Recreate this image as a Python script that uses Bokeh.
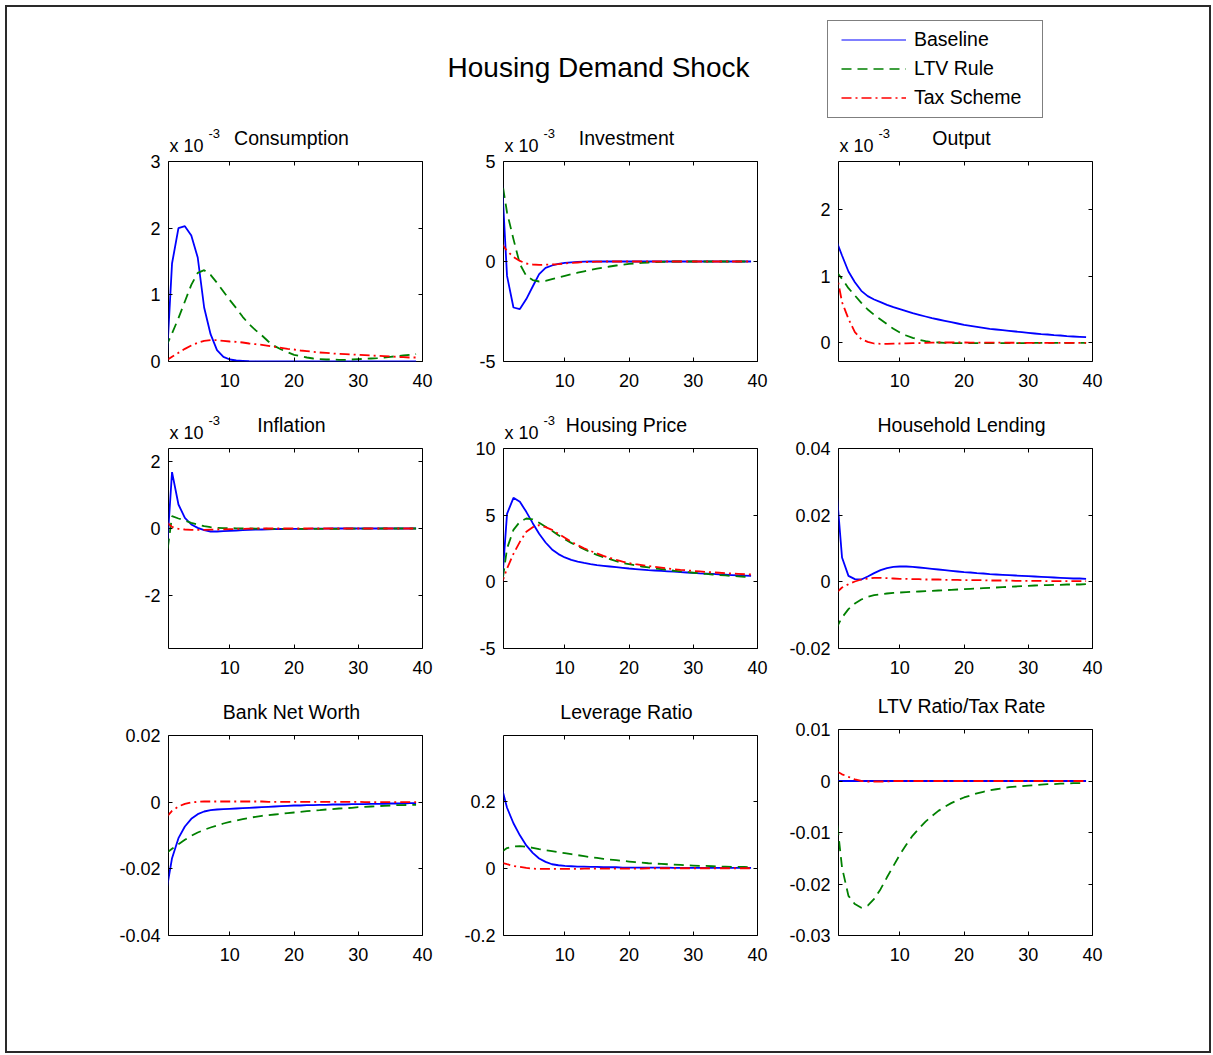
from bokeh.plotting import figure
from bokeh.models import (Range1d, FixedTicker, LinearAxis, Label, Legend, LegendItem,
                          CustomLabelingPolicy)
from bokeh.layouts import column, row
from bokeh.embed import file_html
from bokeh.resources import INLINE

FONT = "Liberation Sans"

# ---------------- data (periods 0..39) ----------------
PERIODS = list(range(0, 40))
X_TICKS = [10, 20, 30, 40]
X_LABELS = ["10", "20", "30", "40"]

# Consumption (x 10^-3)
CONS_BASE = [-0.3, 1.47, 2.00, 2.03, 1.89, 1.56, 0.81, 0.41, 0.17, 0.07, 0.03, 0.015, 0.01, 0.005, 0.003, 0.002,
             0.001, 0.0, 0.0, 0.0, 0.0, 0.0, 0.0, 0.0, 0.0, 0.0, 0.0, 0.0, 0.0, 0.0, 0.0, 0.0, 0.0, 0.0, 0.0, 0.0,
             0.0, 0.0, 0.0, 0.0]
CONS_LTV = [0.21, 0.42, 0.65, 0.9, 1.15, 1.33, 1.37, 1.3, 1.18, 1.05, 0.92, 0.8, 0.67, 0.56, 0.47, 0.39, 0.3, 0.23,
            0.18, 0.14, 0.1, 0.08, 0.06, 0.045, 0.035, 0.03, 0.03, 0.025, 0.025, 0.03, 0.035, 0.04, 0.045, 0.05,
            0.06, 0.07, 0.08, 0.09, 0.1, 0.11]
CONS_TAX = [0.01, 0.07, 0.13, 0.19, 0.24, 0.28, 0.31, 0.32, 0.32, 0.31, 0.3, 0.295, 0.285, 0.27, 0.26, 0.25, 0.235,
            0.22, 0.205, 0.19, 0.18, 0.165, 0.155, 0.145, 0.135, 0.13, 0.12, 0.115, 0.11, 0.105, 0.1, 0.095, 0.09,
            0.085, 0.08, 0.075, 0.07, 0.065, 0.06, 0.06]

# Investment (x 10^-3)
INV_BASE = [5.3, -0.72, -2.3, -2.38, -1.88, -1.25, -0.63, -0.32, -0.2, -0.12, -0.07, -0.04, -0.02, -0.01, 0.0, 0.0,
            0.0, 0.0, 0.0, 0.0, 0.0, 0.0, 0.0, 0.0, 0.0, 0.0, 0.0, 0.0, 0.0, 0.0, 0.0, 0.0, 0.0, 0.0, 0.0, 0.0, 0.0,
            0.0, 0.0, 0.0]
INV_LTV = [4.47, 2.45, 1.12, -0.13, -0.72, -0.93, -1.0, -0.97, -0.88, -0.8, -0.72, -0.64, -0.56, -0.49, -0.42, -0.36,
           -0.3, -0.25, -0.2, -0.16, -0.12, -0.09, -0.07, -0.05, -0.03, -0.02, -0.01, 0.0, 0.0, 0.0, 0.0, 0.0, 0.0,
           0.0, 0.0, 0.0, 0.0, 0.0, 0.0, 0.0]
INV_TAX = [0.96, 0.53, 0.23, 0.03, -0.1, -0.15, -0.17, -0.16, -0.15, -0.13, -0.1, -0.07, -0.05, -0.03, -0.02, -0.01,
           0.0, 0.0, 0.0, 0.0, 0.0, 0.0, 0.0, 0.0, 0.0, 0.0, 0.0, 0.0, 0.0, 0.0, 0.0, 0.0, 0.0, 0.0, 0.0, 0.0, 0.0,
           0.0, 0.0, 0.0]

# Output (x 10^-3)
OUT_BASE = [1.56, 1.31, 1.07, 0.91, 0.78, 0.7, 0.65, 0.61, 0.57, 0.535, 0.505, 0.475, 0.445, 0.42, 0.395, 0.37,
            0.35, 0.33, 0.31, 0.29, 0.27, 0.255, 0.24, 0.225, 0.21, 0.2, 0.19, 0.18, 0.17, 0.16, 0.15, 0.14, 0.13,
            0.125, 0.115, 0.11, 0.1, 0.095, 0.09, 0.085]
OUT_LTV = [1.08, 0.96, 0.82, 0.71, 0.6, 0.5, 0.42, 0.35, 0.28, 0.21, 0.155, 0.11, 0.075, 0.045, 0.025, 0.01, 0.005,
           0.0, -0.005, -0.005, -0.005, -0.005, -0.005, -0.005, -0.005, -0.005, -0.005, -0.004, -0.004, -0.003,
           -0.003, -0.002, -0.002, -0.001, -0.001, 0.0, 0.0, 0.0, 0.0, 0.0]
OUT_TAX = [1.11, 0.61, 0.36, 0.16, 0.055, 0.015, -0.01, -0.015, -0.015, -0.012, -0.01, -0.008, -0.005, -0.003, 0.0,
           0.003, 0.005, 0.005, 0.005, 0.005, 0.005, 0.004, 0.004, 0.003, 0.003, 0.002, 0.002, 0.001, 0.001, 0.0,
           0.0, 0.0, 0.0, 0.0, 0.0, 0.0, 0.0, 0.0, 0.0, 0.0]

# Inflation (x 10^-3)
INF_BASE = [-1.26, 1.69, 0.72, 0.32, 0.12, 0.02, -0.05, -0.09, -0.09, -0.08, -0.07, -0.06, -0.05, -0.04, -0.035,
            -0.03, -0.025, -0.02, -0.015, -0.015, -0.01, -0.01, -0.01, -0.005, -0.005, -0.005, 0.0, 0.0, 0.0, 0.0,
            0.0, 0.0, 0.0, 0.0, 0.0, 0.0, 0.0, 0.0, 0.0, 0.0]
INF_LTV = [-1.08, 0.37, 0.3, 0.24, 0.17, 0.12, 0.07, 0.04, 0.02, 0.01, 0.01, 0.005, 0.0, 0.0, -0.005, -0.005, -0.01,
           -0.01, -0.01, -0.01, -0.01, -0.01, -0.01, -0.01, -0.01, -0.01, -0.01, -0.01, -0.005, -0.005, -0.005,
           -0.005, -0.005, -0.005, 0.0, 0.0, 0.0, 0.0, 0.0, 0.0]
INF_TAX = [0.21, 0.05, -0.01, -0.03, -0.04, -0.04, -0.04, -0.035, -0.03, -0.025, -0.02, -0.015, -0.01, -0.005, 0.0,
           0.0, 0.0, 0.0, 0.0, 0.0, 0.0, 0.0, 0.0, 0.0, 0.0, 0.0, 0.0, 0.0, 0.0, 0.0, 0.0, 0.0, 0.0, 0.0, 0.0, 0.0,
           0.0, 0.0, 0.0, 0.0]

# Housing Price (x 10^-3)
HP_BASE = [-1.6, 5.1, 6.3, 6.0, 5.25, 4.4, 3.6, 2.95, 2.43, 2.08, 1.83, 1.65, 1.52, 1.42, 1.33, 1.25, 1.2, 1.15, 1.1,
           1.05, 1.0, 0.96, 0.92, 0.88, 0.85, 0.82, 0.79, 0.76, 0.73, 0.7, 0.67, 0.64, 0.62, 0.59, 0.56, 0.54, 0.51,
           0.48, 0.46, 0.44]
HP_LTV = [-0.92, 2.5, 3.9, 4.5, 4.75, 4.68, 4.43, 4.13, 3.83, 3.5, 3.2, 2.92, 2.68, 2.45, 2.22, 2.02, 1.85, 1.7,
          1.55, 1.42, 1.32, 1.23, 1.15, 1.08, 1.01, 0.95, 0.89, 0.83, 0.78, 0.73, 0.68, 0.63, 0.59, 0.55, 0.51, 0.48,
          0.44, 0.41, 0.38, 0.35]
HP_TAX = [-0.36, 1.0, 2.1, 3.0, 3.75, 4.1, 4.25, 4.1, 3.9, 3.6, 3.3, 3.0, 2.75, 2.52, 2.32, 2.13, 1.95, 1.8, 1.65,
          1.52, 1.4, 1.32, 1.25, 1.18, 1.12, 1.06, 1.0, 0.95, 0.9, 0.86, 0.82, 0.78, 0.74, 0.71, 0.68, 0.65, 0.62,
          0.6, 0.57, 0.55]

# Household Lending
HL_BASE = [0.031, 0.0073, 0.0018, 0.0008, 0.0007, 0.0016, 0.0026, 0.0035, 0.0041, 0.0045, 0.0046, 0.0046, 0.0045,
           0.0043, 0.0041, 0.0039, 0.0037, 0.0035, 0.0033, 0.0031, 0.0029, 0.0028, 0.0026, 0.0025, 0.0023, 0.0022,
           0.0021, 0.002, 0.0019, 0.0018, 0.0017, 0.0016, 0.0015, 0.0014, 0.0013, 0.0012, 0.0011, 0.001, 0.001,
           0.0009]
HL_LTV = [-0.0143, -0.0107, -0.0082, -0.0065, -0.0053, -0.0045, -0.004, -0.0037, -0.0035, -0.0033, -0.0032,
          -0.0031, -0.003, -0.0029, -0.0028, -0.0027, -0.0026, -0.0025, -0.0024, -0.0023, -0.0022, -0.0021, -0.002,
          -0.0019, -0.0018, -0.0017, -0.0016, -0.0015, -0.0014, -0.0013, -0.0012, -0.0011, -0.001, -0.001, -0.0009,
          -0.0009, -0.0008, -0.0008, -0.0008, -0.0007]
HL_TAX = [-0.0035, -0.0017, -0.0007, 0.0001, 0.0007, 0.001, 0.0012, 0.0012, 0.0011, 0.001, 0.0009, 0.0009, 0.0008,
          0.0008, 0.0007, 0.0007, 0.0007, 0.0006, 0.0006, 0.0006, 0.0005, 0.0005, 0.0005, 0.0005, 0.0004, 0.0004,
          0.0004, 0.0004, 0.0003, 0.0003, 0.0003, 0.0003, 0.0003, 0.0002, 0.0002, 0.0002, 0.0002, 0.0002, 0.0002,
          0.0002]

# Bank Net Worth
BNW_BASE = [-0.028, -0.0168, -0.0108, -0.0073, -0.005, -0.0036, -0.0028, -0.0024, -0.0022, -0.0021, -0.002, -0.0019,
            -0.0018, -0.0017, -0.0016, -0.0015, -0.0014, -0.0013, -0.0012, -0.0011, -0.001, -0.001, -0.0009,
            -0.0009, -0.0008, -0.0008, -0.0007, -0.0007, -0.0007, -0.0006, -0.0006, -0.0006, -0.0005, -0.0005,
            -0.0005, -0.0004, -0.0004, -0.0004, -0.0003, -0.0003]
BNW_LTV = [-0.0155, -0.014, -0.0126, -0.0113, -0.0101, -0.0091, -0.0083, -0.0076, -0.007, -0.0064, -0.0059, -0.0055,
           -0.0051, -0.0047, -0.0044, -0.0041, -0.0039, -0.0037, -0.0035, -0.0033, -0.0031, -0.0029, -0.0027,
           -0.0025, -0.0024, -0.0022, -0.0021, -0.0019, -0.0018, -0.0017, -0.0015, -0.0014, -0.0013, -0.0012,
           -0.0011, -0.001, -0.0009, -0.0009, -0.0008, -0.0008]
BNW_TAX = [-0.0048, -0.0026, -0.0013, -0.0005, -0.0001, 0.0001, 0.0002, 0.0002, 0.0002, 0.0002, 0.0002, 0.0002,
           0.0002, 0.0002, 0.0002, 0.0002, 0.0001, 0.0001, 0.0001, 0.0001, 0.0001, 0.0001, 0.0001, 0.0001, 0.0001,
           0.0001, 0.0001, 0.0001, 0.0001, 0.0001, 0.0001, 0.0, 0.0, 0.0, 0.0, 0.0, 0.0, 0.0, 0.0, 0.0]

# Leverage Ratio
LEV_BASE = [0.253, 0.18, 0.134, 0.098, 0.068, 0.046, 0.029, 0.019, 0.012, 0.009, 0.007, 0.006, 0.005, 0.005, 0.004,
            0.004, 0.003, 0.003, 0.003, 0.002, 0.002, 0.002, 0.002, 0.002, 0.002, 0.002, 0.002, 0.001, 0.001, 0.001,
            0.001, 0.001, 0.001, 0.001, 0.001, 0.001, 0.001, 0.001, 0.001, 0.001]
LEV_LTV = [0.047, 0.06, 0.065, 0.066, 0.064, 0.061, 0.057, 0.054, 0.051, 0.048, 0.045, 0.042, 0.039, 0.036, 0.033,
           0.031, 0.028, 0.026, 0.024, 0.022, 0.02, 0.018, 0.017, 0.015, 0.014, 0.013, 0.012, 0.011, 0.01, 0.009,
           0.008, 0.007, 0.007, 0.006, 0.005, 0.005, 0.004, 0.004, 0.004, 0.003]
LEV_TAX = [0.0175, 0.012, 0.007, 0.004, 0.001, -0.001, -0.002, -0.002, -0.002, -0.002, -0.002, -0.002, -0.002,
           -0.001, -0.001, -0.001, -0.001, -0.001, -0.001, -0.001, -0.001, -0.001, -0.001, 0.0, 0.0, 0.0, 0.0, 0.0,
           0.0, 0.0, 0.0, 0.0, 0.0, 0.0, 0.0, 0.0, 0.0, 0.0, 0.0, 0.0]

# LTV Ratio / Tax Rate
LTV_BASE = [0.0, 0.0, 0.0, 0.0, 0.0, 0.0, 0.0, 0.0, 0.0, 0.0, 0.0, 0.0, 0.0, 0.0, 0.0, 0.0, 0.0, 0.0, 0.0, 0.0, 0.0,
            0.0, 0.0, 0.0, 0.0, 0.0, 0.0, 0.0, 0.0, 0.0, 0.0, 0.0, 0.0, 0.0, 0.0, 0.0, 0.0, 0.0, 0.0, 0.0]
LTV_LTV = [-0.0055, -0.0168, -0.0223, -0.0239, -0.0246, -0.0242, -0.0229, -0.021, -0.0187, -0.0165, -0.0143,
           -0.0124, -0.0106, -0.0092, -0.0079, -0.0068, -0.0058, -0.005, -0.0043, -0.0037, -0.0032, -0.0028, -0.0024,
           -0.0021, -0.0018, -0.0016, -0.0014, -0.0012, -0.0011, -0.001, -0.0009, -0.0008, -0.0007, -0.0006,
           -0.0006, -0.0005, -0.0005, -0.0004, -0.0004, -0.0004]
LTV_TAX = [0.002, 0.0013, 0.0008, 0.0003, 0.0, -0.0001, -0.0001, -0.0001, -0.0001, 0.0, 0.0, 0.0, 0.0, 0.0, 0.0,
           0.0, 0.0, 0.0, 0.0, 0.0, 0.0, 0.0, 0.0, 0.0, 0.0, 0.0, 0.0, 0.0, 0.0, 0.0, 0.0, 0.0, 0.0, 0.0, 0.0, 0.0,
           0.0, 0.0, 0.0, 0.0]

SERIES_NAMES = ["Baseline", "LTV Rule", "Tax Scheme"]
MAIN_TITLE = "Housing Demand Shock"

PANELS = [
    dict(title="Consumption", series=[CONS_BASE, CONS_LTV, CONS_TAX], yr=(0, 3),
         yt=[0, 1, 2, 3], yl=["0", "1", "2", "3"], sci=True),
    dict(title="Investment", series=[INV_BASE, INV_LTV, INV_TAX], yr=(-5, 5),
         yt=[-5, 0, 5], yl=["-5", "0", "5"], sci=True),
    dict(title="Output", series=[OUT_BASE, OUT_LTV, OUT_TAX], yr=(-0.28, 2.72),
         yt=[0, 1, 2], yl=["0", "1", "2"], sci=True),
    dict(title="Inflation", series=[INF_BASE, INF_LTV, INF_TAX], yr=(-3.6, 2.4),
         yt=[-2, 0, 2], yl=["-2", "0", "2"], sci=True),
    dict(title="Housing Price", series=[HP_BASE, HP_LTV, HP_TAX], yr=(-5, 10),
         yt=[-5, 0, 5, 10], yl=["-5", "0", "5", "10"], sci=True),
    dict(title="Household Lending", series=[HL_BASE, HL_LTV, HL_TAX], yr=(-0.02, 0.04),
         yt=[-0.02, 0, 0.02, 0.04], yl=["-0.02", "0", "0.02", "0.04"], sci=False),
    dict(title="Bank Net Worth", series=[BNW_BASE, BNW_LTV, BNW_TAX], yr=(-0.04, 0.02),
         yt=[-0.04, -0.02, 0, 0.02], yl=["-0.04", "-0.02", "0", "0.02"], sci=False),
    dict(title="Leverage Ratio", series=[LEV_BASE, LEV_LTV, LEV_TAX], yr=(-0.2, 0.395),
         yt=[-0.2, 0, 0.2], yl=["-0.2", "0", "0.2"], sci=False),
    dict(title="LTV Ratio/Tax Rate", series=[LTV_BASE, LTV_LTV, LTV_TAX], yr=(-0.03, 0.01),
         yt=[-0.03, -0.02, -0.01, 0, 0.01], yl=["-0.03", "-0.02", "-0.01", "0", "0.01"], sci=False),
]

# ---------------- styling ----------------
COLORS = ["#0000ff", "#008000", "#ff0000"]
DASHES = ["solid", "10 6", "10 4 2 4"]
XR = (0.45, 40)
FRAME_W = 254
COL_BORDERS = [(161, 33), (48, 18), (63, 117)]   # (left, right) per column
TICK_FS = "18px"
TITLE_FS = "19.5px"
STRIP_H = 41      # height of the title strip above each plot frame
OV = 20           # plot top border, overlapping the strip (transparent)

NO_LABELS = CustomLabelingPolicy(code="""
const all = [...indices]
for (const i of all) indices.unset(i)
return indices
""")


def style_axis(ax, show_labels, standoff):
    ax.axis_line_color = None
    ax.major_tick_in = 4
    ax.major_tick_out = 0
    ax.major_tick_line_color = "black"
    ax.minor_tick_line_color = None
    ax.major_label_text_font = FONT
    ax.major_label_text_color = "black"
    if show_labels:
        ax.major_label_text_font_size = TICK_FS
        ax.major_label_standoff = standoff
    else:
        ax.major_label_text_font_size = "2px"
        ax.major_label_standoff = 0
        ax.major_label_policy = NO_LABELS


def blank_fig(**kw):
    f = figure(output_backend="svg", toolbar_location=None,
               x_axis_location=None, y_axis_location=None, **kw)
    f.xgrid.visible = False
    f.ygrid.visible = False
    f.outline_line_color = None
    f.background_fill_color = "white"
    f.border_fill_color = "white"
    return f


def make_panel(spec, col, strip_h, frame_h, bottom):
    L, R = COL_BORDERS[col]
    xr = Range1d(*XR)
    # title strip (its bottom edge is the plot frame's top edge)
    s = blank_fig(width=L + FRAME_W + R, height=strip_h, x_range=xr, y_range=Range1d(0, strip_h),
                  min_border_left=L, min_border_right=R, min_border_top=0, min_border_bottom=0)
    xc = (XR[0] + XR[1]) / 2
    s.add_layout(Label(x=xc, y=24, x_offset=-4, text=spec["title"],
                       text_align="center", text_baseline="middle", text_font=FONT,
                       text_font_size=TITLE_FS, text_color="black"))
    if spec["sci"]:
        s.add_layout(Label(x=XR[0], y=16, x_offset=1, text="x 10",
                           text_align="left", text_baseline="middle", text_font=FONT,
                           text_font_size=TICK_FS, text_color="black"))
        s.add_layout(Label(x=XR[0], y=28, x_offset=40, text="-3",
                           text_align="left", text_baseline="middle", text_font=FONT,
                           text_font_size="13px", text_color="black"))

    # plot, pulled up so that its (transparent) top border overlaps the strip
    p = blank_fig(width=L + FRAME_W + R, height=OV + frame_h + bottom,
                  x_range=xr, y_range=Range1d(*spec["yr"]),
                  min_border_left=L, min_border_right=R, min_border_top=OV, min_border_bottom=bottom,
                  margin=(-OV, 0, 0, 0))
    p.border_fill_alpha = 0.0
    p.outline_line_color = "black"
    p.outline_line_width = 1

    xt = FixedTicker(ticks=X_TICKS)
    yt = FixedTicker(ticks=spec["yt"])
    xb = LinearAxis(ticker=xt, major_label_overrides=dict(zip(X_TICKS, X_LABELS)))
    style_axis(xb, True, 12)
    p.add_layout(xb, "below")
    xa = LinearAxis(ticker=xt)
    style_axis(xa, False, 0)
    p.add_layout(xa, "above")
    yl = LinearAxis(ticker=yt, major_label_overrides=dict(zip(spec["yt"], spec["yl"])))
    style_axis(yl, True, 8)
    p.add_layout(yl, "left")
    yr_ax = LinearAxis(ticker=yt)
    style_axis(yr_ax, False, 0)
    p.add_layout(yr_ax, "right")

    for vals, c, d in zip(spec["series"], COLORS, DASHES):
        p.line(PERIODS, vals, line_color=c, line_width=1.8, line_dash=d)

    return column(s, p, spacing=0)


# ---------------- header (main title + legend) ----------------
header = blank_fig(width=1202, height=113, x_range=Range1d(7, 1209), y_range=Range1d(120, 7), min_border=0)
header.add_layout(Label(x=598, y=67, text=MAIN_TITLE, text_align="center", text_baseline="middle",
                        text_font=FONT, text_font_size="28px", text_color="black"))
items = []
for name, c, d, w in zip(SERIES_NAMES, COLORS, DASHES, [1, 1.5, 1.5]):
    r = header.line(x=[-60, -40], y=[60, 60], line_color=c, line_dash=d, line_width=w)
    items.append(LegendItem(label=name, renderers=[r]))
legend = Legend(items=items, location=(820, 2), border_line_color="black", border_line_width=1,
                background_fill_color="white", background_fill_alpha=1.0,
                label_text_font=FONT, label_text_font_size="19.5px", label_text_color="black",
                glyph_width=65, glyph_height=19, label_height=19, label_width=110, label_standoff=8,
                spacing=6, padding=dict(left=13, right=18, top=7, bottom=8), margin=0)
header.add_layout(legend)

# ---------------- panels ----------------
# (strip heights, frame heights, bottom borders) per row
ROW_GEOM = [
    ([STRIP_H] * 3, [200, 200, 200], [46, 46, 46]),
    ([STRIP_H] * 3, [200, 200, 200], [46, 46, 46]),
    ([STRIP_H, STRIP_H, STRIP_H - 6], [200, 200, 206], [116, 116, 116]),
]
rows = []
for ri, (strips, fhs, bots) in enumerate(ROW_GEOM):
    cells = [make_panel(PANELS[ri * 3 + ci], ci, strips[ci], fhs[ci], bots[ci]) for ci in range(3)]
    rows.append(row(*cells, spacing=0))

layout = column(header, *rows, spacing=0,
                styles={"border": "2px solid #2a2a2a", "margin-left": "5px", "margin-top": "5px"})

open("out.html", "w").write(file_html(layout, INLINE))
